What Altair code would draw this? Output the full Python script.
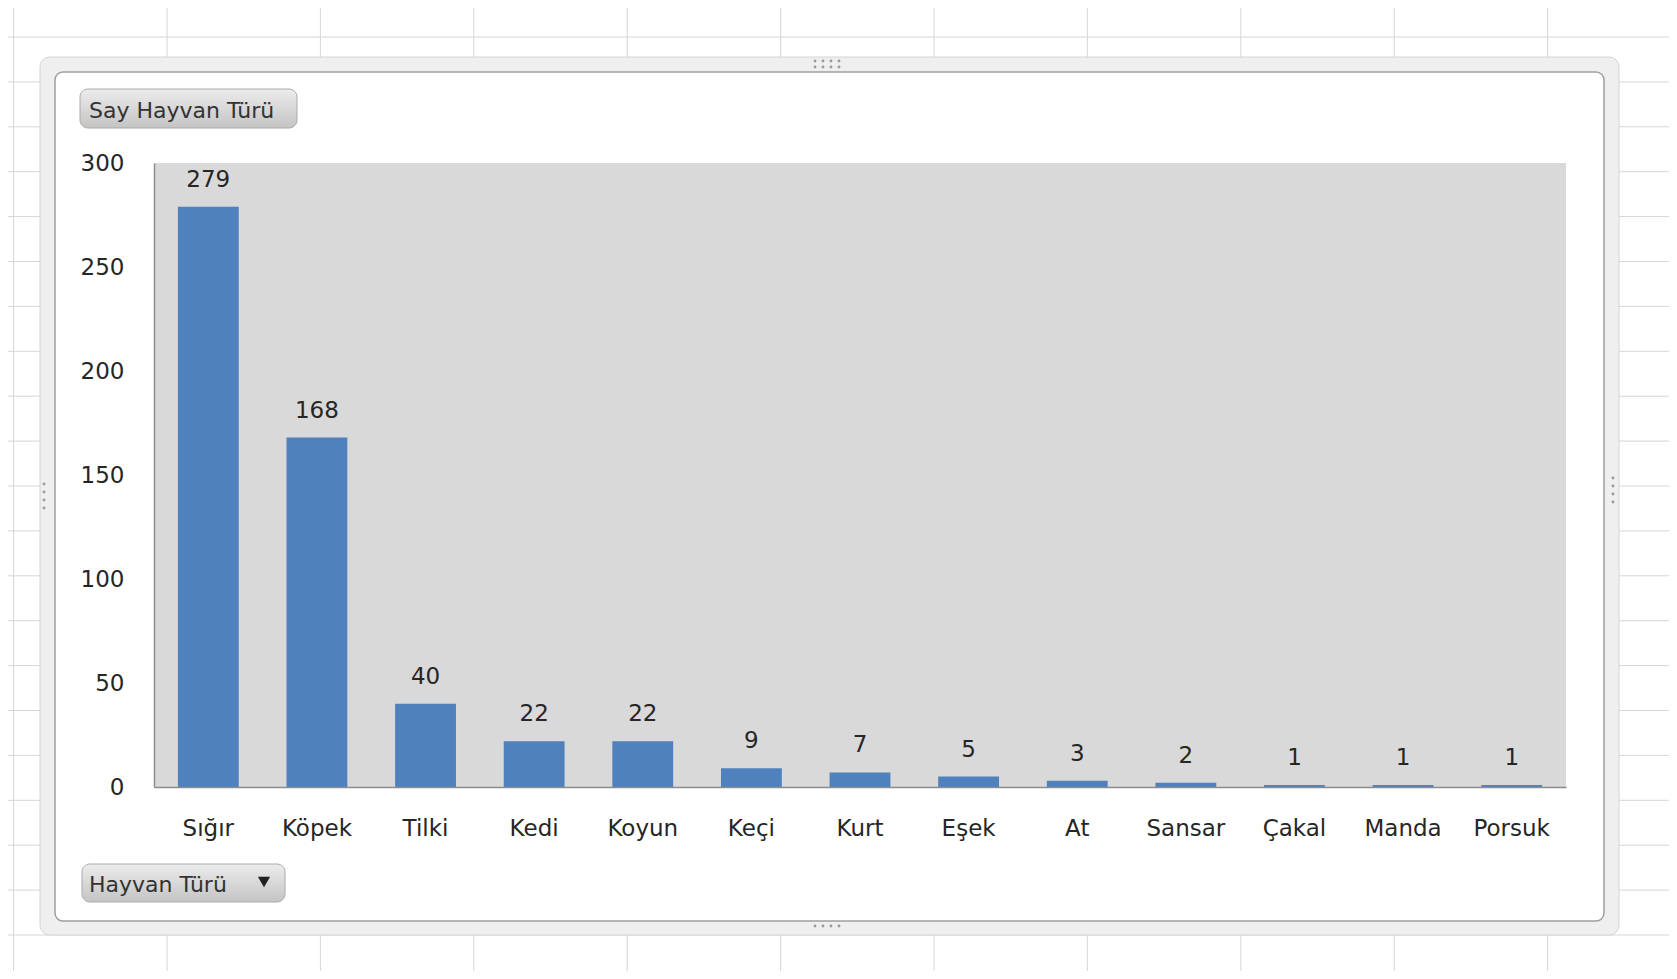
import altair as alt
import pandas as pd

# ---- data ----
categories = ["Sığır", "Köpek", "Tilki", "Kedi", "Koyun", "Keçi", "Kurt",
              "Eşek", "At", "Sansar", "Çakal", "Manda", "Porsuk"]
counts = [279, 168, 40, 22, 22, 9, 7, 5, 3, 2, 1, 1, 1]
y_ticks = [0, 50, 100, 150, 200, 250, 300]

value_button = "Say Hayvan Türü"
axis_button = "Hayvan Türü"

FONT = "DejaVu Sans"
TXT = "#262626"

# plot area size and its position on the page
W, H = 1412, 624
OX, OY = 154, 163


def px(x):
    return x - OX


def py(y):
    return y - OY


df = pd.DataFrame({"tur": categories, "sayi": counts})
one = pd.DataFrame({"k": [0]})

# ---- spreadsheet grid behind the chart object ----
col_x = [13.6 + 153.4 * k for k in range(11)]
row_y = [37 + 44.9 * k for k in range(21)]
grid_rows = [{"x": px(c), "x2": px(c), "y": py(8), "y2": py(971)} for c in col_x]
grid_rows += [{"x": px(8), "x2": px(1669), "y": py(r), "y2": py(r)} for r in row_y]

grid = alt.Chart(pd.DataFrame(grid_rows)).mark_rule(color="#d6d6d6", strokeWidth=1).encode(
    x=alt.X("x:Q", scale=None, axis=None), x2="x2:Q",
    y=alt.Y("y:Q", scale=None, axis=None), y2="y2:Q")


def box(x1, y1, x2, y2, **kw):
    d = pd.DataFrame({"x": [px(x1)], "x2": [px(x2)], "y": [py(y1)], "y2": [py(y2)]})
    return alt.Chart(d).mark_rect(**kw).encode(
        x=alt.X("x:Q", scale=None, axis=None), x2="x2:Q",
        y=alt.Y("y:Q", scale=None, axis=None), y2="y2:Q")


outer = box(40, 57, 1619, 935, fill="#efefef", stroke="#d4d4d4", strokeWidth=1, cornerRadius=10)
inner = box(55, 72, 1604, 921, fill="white", stroke="#a0a0a0", strokeWidth=1.5, cornerRadius=8)
plot_bg = box(OX, OY, OX + W, OY + H, fill="#d9d9d9")

grad = alt.LinearGradient(
    gradient="linear",
    stops=[alt.GradientStop(offset=0, color="#ececec"),
           alt.GradientStop(offset=1, color="#c4c4c4")],
    x1=0, x2=0, y1=0, y2=1)
btn1 = box(80, 89, 297, 128, fill=grad, stroke="#aaaaaa", strokeWidth=1, cornerRadius=8)
btn2 = box(82, 864, 285, 902, fill=grad, stroke="#aaaaaa", strokeWidth=1, cornerRadius=8)

btn1_txt = alt.Chart(one).mark_text(align="left", baseline="alphabetic", font=FONT,
                                    fontSize=22, color="#333333").encode(
    x=alt.value(px(89)), y=alt.value(py(118)), text=alt.value(value_button))
btn2_txt = alt.Chart(one).mark_text(align="left", baseline="alphabetic", font=FONT,
                                    fontSize=22, color="#333333").encode(
    x=alt.value(px(89)), y=alt.value(py(892)), text=alt.value(axis_button))
arrow = alt.Chart(one).mark_point(shape="triangle-down", filled=True, color="#222222",
                                  size=150, opacity=1).encode(
    x=alt.value(px(264)), y=alt.value(py(882)))

# resize handles of the chart object (small dots)
dots = [(815, 61), (823, 61), (831, 61), (839, 61),
        (815, 67), (823, 67), (831, 67), (839, 67),
        (815, 926), (823, 926), (831, 926), (839, 926),
        (44, 484), (44, 492), (44, 500), (44, 508),
        (1613, 478), (1613, 486), (1613, 494), (1613, 502)]
dot_df = pd.DataFrame({"x": [px(a) for a, b in dots], "y": [py(b) for a, b in dots]})
handles = alt.Chart(dot_df).mark_circle(color="#9a9a9a", size=8, opacity=1).encode(
    x=alt.X("x:Q", scale=None, axis=None), y=alt.Y("y:Q", scale=None, axis=None))

# ---- the chart itself ----
x_enc = alt.X("tur:N", sort=categories,
              scale=alt.Scale(paddingInner=0.44, paddingOuter=0.22),
              axis=alt.Axis(title=None, labelAngle=0, labelFont=FONT, labelFontSize=23,
                            labelColor=TXT, ticks=False, tickSize=0, labelPadding=48,
                            labelBaseline="alphabetic", labelOverlap=False,
                            domainColor="#8c8c8c", domainWidth=1.5, grid=False, zindex=1))
y_enc = alt.Y("sayi:Q", scale=alt.Scale(domain=[0, 300], nice=False, zero=True),
              axis=alt.Axis(title=None, values=y_ticks, labelFont=FONT, labelFontSize=23,
                            labelColor=TXT, ticks=False, tickSize=0, labelPadding=30,
                            domainColor="#8c8c8c", domainWidth=1.5, grid=False, zindex=1))

bars = alt.Chart(df).mark_bar(color="#4f81bd").encode(x=x_enc, y=y_enc)

labels = alt.Chart(df).mark_text(baseline="alphabetic", align="center", dy=-20,
                                 font=FONT, fontSize=23, color=TXT).encode(
    x=alt.X("tur:N", sort=categories,
            scale=alt.Scale(paddingInner=0.44, paddingOuter=0.22), axis=None),
    y=alt.Y("sayi:Q", scale=alt.Scale(domain=[0, 300], nice=False, zero=True), axis=None),
    text=alt.Text("sayi:Q", format="d"))

chart = alt.layer(
    grid, outer, inner, handles, btn1, btn1_txt, btn2, btn2_txt, arrow,
    plot_bg, bars, labels
).resolve_scale(x="independent", y="independent").properties(
    width=W, height=H,
    autosize=alt.AutoSizeParams(type="none"),
    padding={"left": 146, "top": 155, "right": 103, "bottom": 184},
    background="white",
).configure_view(stroke=None)

chart.save("out.html", embed_options={"renderer": "svg", "actions": False})
